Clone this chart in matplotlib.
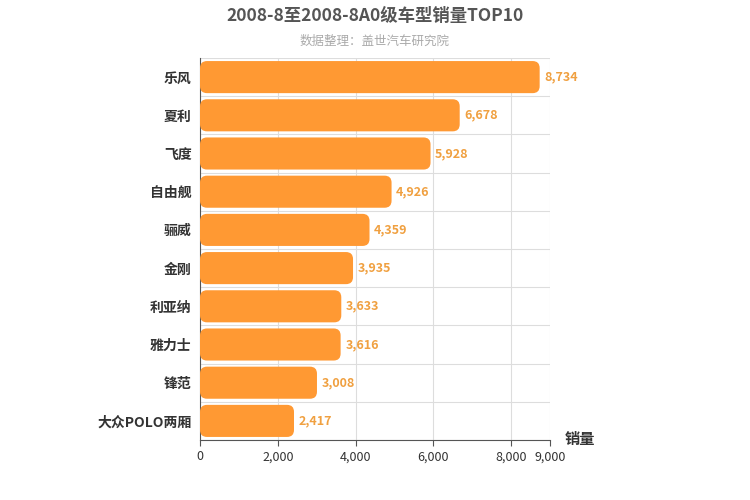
import matplotlib
matplotlib.use("Agg")
import matplotlib.pyplot as plt
from matplotlib.patches import FancyBboxPatch

plt.rcParams['font.family'] = 'Noto Sans CJK SC'

categories = ["乐风", "夏利", "飞度", "自由舰", "骊威", "金刚", "利亚纳", "雅力士", "锋范", "大众POLO两厢"]
values = [8734, 6678, 5928, 4926, 4359, 3935, 3633, 3616, 3008, 2417]
xticks = [0, 2000, 4000, 6000, 8000, 9000]

fig = plt.figure(figsize=(7.5, 5), dpi=100)
ax = fig.add_axes([200/750, 60/500, 350/750, 382/500])
n = len(categories)
ax.set_xlim(0, 9000)
ax.set_ylim(n - 0.5, -0.5)
color = '#ff9933'
h = 0.84
xper = 9000/350; yper = n/382
for i, v in enumerate(values):
    p = FancyBboxPatch((0, i - h/2), v, h, boxstyle="round,pad=0,rounding_size=%f" % (7*xper),
                       mutation_aspect=yper/xper, fc=color, ec='none', zorder=3)
    ax.add_patch(p)
    ax.text(v + 120, i, f"{v:,}", va='center', ha='left', color='#f0a040', fontsize=9, fontweight='bold', zorder=4)
ax.set_yticks(range(n))
ax.set_yticklabels(categories, fontsize=10, fontweight='bold', color='#333333')
ax.set_xticks(xticks)
ax.set_xticklabels([f"{t:,}" for t in xticks], fontsize=9, color='#333333')
for t in xticks:
    ax.axvline(t, color='#dddddd', lw=0.8, zorder=1)
for b in range(n + 1):
    ax.axhline(b - 0.5, color='#dddddd', lw=0.8, zorder=1)
for s in ['top', 'right']:
    ax.spines[s].set_visible(False)
ax.spines['left'].set_color('#555555')
ax.spines['bottom'].set_color('#555555')
ax.tick_params(axis='y', length=0, pad=6)
ax.tick_params(axis='x', length=4, color='#555555')
fig.text(0.5, 1 - 16/500, "2008-8至2008-8A0级车型销量TOP10", ha='center', va='center',
         fontsize=12.5, fontweight='bold', color='#555555')
fig.text(0.5, 1 - 41/500, "数据整理：盖世汽车研究院", ha='center', va='center', fontsize=9, color='#aaaaaa')
fig.text(580/750, 1 - 439/500, "销量", ha='center', va='center', fontsize=11, fontweight='bold', color='#333333')
fig.savefig("out.png", dpi=100)
